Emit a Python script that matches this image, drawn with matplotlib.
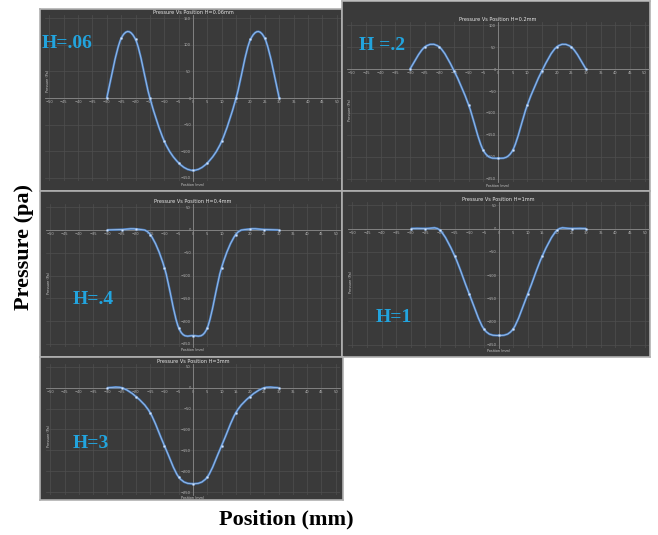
import matplotlib.pyplot as plt
import numpy as np
from matplotlib.path import Path
from matplotlib.patches import PathPatch

# Data
position = [-30, -25, -20, -15, -10, -5, 0, 5, 10, 15, 20, 25, 30]
p_h006 = [0, 112, 110, 0, -81, -122, -136, -122, -81, 0, 110, 112, 0]
p_h02 = [0, 50, 50, -4, -82, -185, -203, -185, -82, -4, 50, 50, 0]
p_h04 = [0, 1, 2, -10, -83, -215, -232, -215, -83, -10, 2, 1, 0]
p_h1 = [0, 0, -4, -59, -141, -216, -230, -216, -141, -59, -4, 0, 0]
p_h3 = [0, 0, -21, -60, -139, -214, -230, -214, -139, -60, -21, 0, 0]

titles = ["Pressure Vs Position H=0.06mm", "Pressure Vs Position H=0.2mm",
          "Pressure Vs Position H=0.4mm", "Pressure Vs Position H=1mm",
          "Pressure Vs Position H=3mm"]
labels = ["H=.06", "H =.2", "H=.4", "H=1", "H=3"]
series = [p_h006, p_h02, p_h04, p_h1, p_h3]
yticks = [np.arange(-150, 151, 50), np.arange(-250, 101, 50),
          np.arange(-250, 51, 50), np.arange(-250, 51, 50), np.arange(-250, 51, 50)]
ylims = [(-156, 156), (-257, 107), (-257, 57), (-257, 57), (-257, 57)]

W, H = 658, 535
# panel boxes and plot areas in pixels (left, top, right, bottom)
panels = [(40, 9, 342, 191), (342, 1, 650, 191), (40, 191, 342, 357),
          (342, 191, 650, 357), (40, 357, 343, 500)]
inner = [(45, 15, 341, 181), (347, 22, 649, 182), (46, 204, 340, 347),
         (348, 202, 649, 348), (46, 364, 340, 495)]
label_pos = [(67, 44), (382, 46), (93, 300), (394, 317), (91, 443)]
ytitle_y = [0.6, 0.45, 0.45, 0.45, 0.45]

bg = "#3a3a3a"
blue_txt = "#22a4de"


def rect(box):
    l, t, r, b = box
    return [l / W, 1 - b / H, (r - l) / W, (b - t) / H]


def smooth_path(x, y):
    # Excel style smoothed line: Catmull-Rom segments as cubic Beziers
    pts = np.column_stack([x, y]).astype(float)
    ext = np.vstack([pts[0], pts, pts[-1]])
    verts = [pts[0]]
    codes = [Path.MOVETO]
    for i in range(1, len(ext) - 2):
        p0, p1, p2, p3 = ext[i - 1], ext[i], ext[i + 1], ext[i + 2]
        verts += [p1 + (p2 - p0) / 6, p2 - (p3 - p1) / 6, p2]
        codes += [Path.CURVE4] * 3
    return Path(verts, codes)


fig = plt.figure(figsize=(6.58, 5.35), dpi=100)

for i in range(5):
    axb = fig.add_axes(rect(panels[i]))
    axb.set_facecolor(bg)
    axb.set_xticks([])
    axb.set_yticks([])
    for s in axb.spines.values():
        s.set_color("#b0b0b0")
        s.set_linewidth(1.2)

    ax = fig.add_axes(rect(inner[i]))
    ax.patch.set_alpha(0)
    ax.set_xlim(-51.5, 51.5)
    ax.set_ylim(*ylims[i])
    ax.set_xticks(np.arange(-50, 51, 5))
    ax.set_yticks(yticks[i])
    ax.grid(True, color="#4f4f4f", linewidth=0.5)
    ax.spines["top"].set_visible(False)
    ax.spines["right"].set_visible(False)
    ax.spines["bottom"].set_position(("data", 0))
    ax.spines["left"].set_position(("data", 0))
    ax.spines["bottom"].set_color("#8a8a8a")
    ax.spines["left"].set_color("#8a8a8a")
    ax.spines["bottom"].set_linewidth(0.6)
    ax.spines["left"].set_linewidth(0.6)
    ax.tick_params(length=0, labelsize=2.6, labelcolor="#b5b5b5", pad=1.5)

    ax.add_patch(PathPatch(smooth_path(position, series[i]), fill=False,
                           edgecolor="#4a7fc2", linewidth=1.6, zorder=3))
    ax.add_patch(PathPatch(smooth_path(position, series[i]), fill=False,
                           edgecolor="#9fc0ea", linewidth=0.6, zorder=4))
    ax.plot(position, series[i], linestyle="none", marker="o", markersize=1.6,
            markerfacecolor="#d8e6f8", markeredgecolor="#8fb4e4",
            markeredgewidth=0.3, zorder=5)

    ax.set_title(titles[i], fontsize=3.6, color="#e8e8e8", pad=1)
    ax.text(0, -0.01, "Position (mm)", transform=ax.get_xaxis_transform(),
            fontsize=2.4, color="#c8c8c8", ha="center", va="top")
    ax.text(0.01, ytitle_y[i], "Pressure (Pa)", transform=ax.transAxes,
            fontsize=2.4, color="#c8c8c8", rotation=90, ha="center", va="center")

    lx, ly = label_pos[i]
    fig.text(lx / W, 1 - ly / H, labels[i], fontsize=14, fontweight="bold",
             family="Liberation Serif", color=blue_txt, ha="center", va="center")

fig.text(24 / W, 1 - 247 / H, "Pressure (pa)", rotation=90, fontsize=16,
         fontweight="bold", family="Liberation Serif", ha="center", va="center")
fig.text(286 / W, 1 - 519 / H, "Position (mm)", fontsize=16,
         fontweight="bold", family="Liberation Serif", ha="center", va="center")

fig.savefig("out.png", dpi=100, facecolor="white")
